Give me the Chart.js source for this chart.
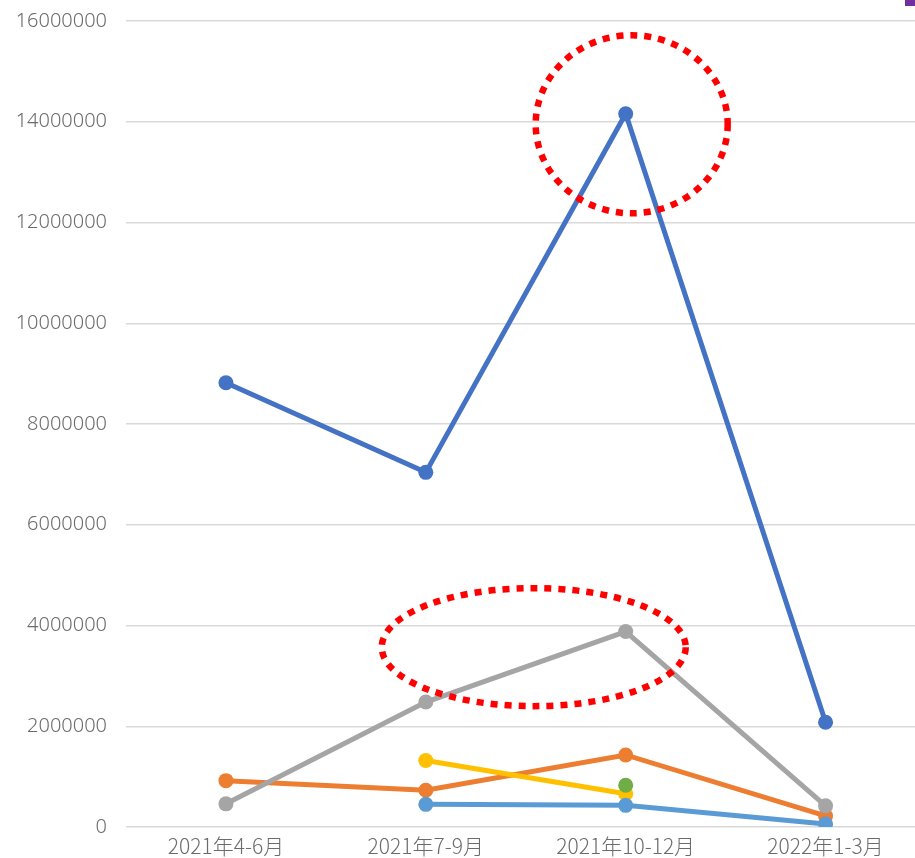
<!DOCTYPE html>
<html>
<head>
<meta charset="utf-8">
<script src="https://cdn.jsdelivr.net/npm/chart.js@4"></script>
<style>
html,body{margin:0;padding:0;background:#fff;overflow:hidden;width:915px;height:858px;}
#wrap{position:relative;width:940px;height:858px;}
#legendMark{position:absolute;left:905px;top:0;width:10px;height:6px;background:#7030A0;}
</style>
</head>
<body>
<div id="wrap"><canvas id="c" width="933" height="858"></canvas><div id="legendMark"></div></div>
<script>
const categories = ["2021年4-6月", "2021年7-9月", "2021年10-12月", "2022年1-3月"];
const seriesA = [8820000, 7040000, 14160000, 2080000];   // dark blue
const seriesB = [920000, 730000, 1430000, 220000];       // orange
const seriesC = [460000, 2480000, 3880000, 420000];      // gray
const seriesD = [null, 1320000, 660000, null];           // yellow
const seriesE = [null, 450000, 430000, 60000];           // light blue
const seriesF = [null, null, 830000, null];              // green
const yTicks = [0, 2000000, 4000000, 6000000, 8000000, 10000000, 12000000, 14000000, 16000000];

const colors = ["#4472C4", "#ED7D31", "#A5A5A5", "#FFC000", "#5B9BD5", "#70AD47"];
const allSeries = [seriesA, seriesB, seriesC, seriesD, seriesE, seriesF];

const datasets = allSeries.map((d, i) => ({
  data: d,
  borderColor: colors[i],
  backgroundColor: colors[i],
  pointBackgroundColor: colors[i],
  pointBorderColor: colors[i],
  borderWidth: 5,
  pointRadius: 7.5,
  pointBorderWidth: 0,
  spanGaps: false,
  tension: 0,
  order: allSeries.length - i
}));

// red dotted ellipse highlights, anchored to category index / value
const highlights = [
  {xi: 2.03, v: 13950000, rx: 96, ry: 89},
  {xi: 1.54, v: 3570000, rx: 152, ry: 59}
];

const ellipsePlugin = {
  id: 'ellipses',
  afterDatasetsDraw(chart) {
    const ctx = chart.ctx;
    const xs = chart.scales.x, ys = chart.scales.y;
    const step = xs.getPixelForValue(1) - xs.getPixelForValue(0);
    ctx.save();
    ctx.strokeStyle = '#FF0000';
    ctx.lineWidth = 6.5;
    ctx.setLineDash([7, 7]);
    highlights.forEach(h => {
      const cx = xs.getPixelForValue(0) + h.xi * step;
      const cy = ys.getPixelForValue(h.v);
      ctx.beginPath();
      ctx.ellipse(cx, cy, h.rx, h.ry, 0, 0, Math.PI * 2);
      ctx.stroke();
    });
    ctx.restore();
  }
};

new Chart(document.getElementById('c'), {
  type: 'line',
  data: {labels: categories, datasets},
  options: {
    responsive: false,
    animation: false,
    layout: {padding: {top: 21, right: 0, left: 0, bottom: 0}},
    plugins: {legend: {display: false}, tooltip: {enabled: false}},
    scales: {
      x: {
        offset: true,
        grid: {display: false, drawTicks: false},
        border: {display: false},
        ticks: {color: '#6b6b6b', font: {family: '"Noto Sans CJK JP", "Noto Sans", sans-serif', size: 21, weight: 300}, padding: 6, maxRotation: 0},
        afterFit: s => { s.height = 31; s.paddingLeft = 0; s.paddingRight = 0; }
      },
      y: {
        min: 0, max: 16000000,
        afterBuildTicks: s => { s.ticks = yTicks.map(v => ({value: v})); },
        grid: {color: '#D9D9D9', lineWidth: 1.5, drawTicks: false},
        border: {display: false},
        ticks: {color: '#6b6b6b', font: {family: '"Noto Sans", sans-serif', size: 20, weight: 300}, padding: 19,
          callback: v => String(v)},
        afterFit: s => { s.width = 126; s.paddingTop = 0; s.paddingBottom = 0; }
      }
    }
  },
  plugins: [ellipsePlugin]
});
</script>
</body>
</html>
